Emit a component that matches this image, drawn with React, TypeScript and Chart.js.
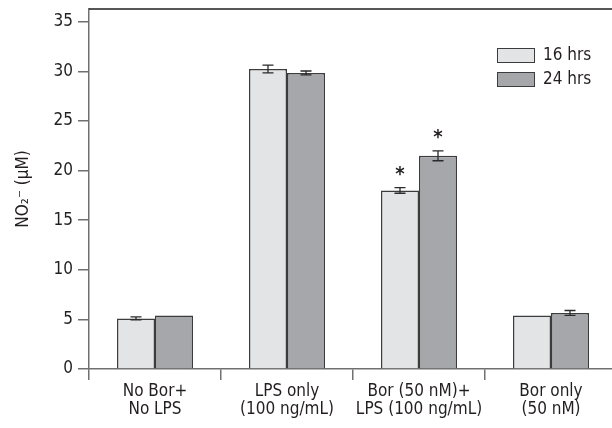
import React, { useEffect, useRef } from "react";
import { Chart, registerables } from "chart.js";

Chart.register(...registerables);

// Nitrite production per treatment group, at two time points
const categories = [
  ["No Bor+", "No LPS"],
  ["LPS only", "(100 ng/mL)"],
  ["Bor (50 nM)+", "LPS (100 ng/mL)"],
  ["Bor only", "(50 nM)"],
];
const seriesLabels = ["16 hrs", "24 hrs"];
const values16 = [5.1, 30.25, 18.0, 5.4];
const errors16 = [0.15, 0.4, 0.28, 0];
const values24 = [5.4, 29.85, 21.5, 5.65];
const errors24 = [0, 0.2, 0.5, 0.25];
const significant16 = [false, false, true, false];
const significant24 = [false, false, true, false];
const yTickValues = [0, 5, 10, 15, 20, 25, 30, 35];
const yMax = 36.3;

const FONT = '"DejaVu Sans Condensed", "Liberation Sans Narrow", sans-serif';
const TEXT = "#231f20";
const AXIS = "#707070";
const EDGE = "#3c3c3c";
const LIGHT = "#e3e4e6";
const DARK = "#a6a7aa";

const seriesValues = [values16, values24];
const seriesErrors = [errors16, errors24];
const seriesMarks = [significant16, significant24];

const overlay = {
  id: "overlay",
  afterDatasetsDraw(chart: any) {
    const { ctx, chartArea, scales } = chart;
    const y = scales.y;
    ctx.save();

    // frame line along the top of the plot
    ctx.strokeStyle = "#1e1e1e";
    ctx.lineWidth = 1.5;
    ctx.beginPath();
    ctx.moveTo(chartArea.left, chartArea.top);
    ctx.lineTo(chartArea.right, chartArea.top);
    ctx.stroke();

    // error bars and significance marks
    seriesValues.forEach((vals, di) => {
      const meta = chart.getDatasetMeta(di);
      meta.data.forEach((bar: any, i: number) => {
        const v = vals[i];
        const e = seriesErrors[di][i];
        const x = bar.x;
        if (e > 0) {
          const yTop = y.getPixelForValue(v + e);
          const yBot = y.getPixelForValue(v - e);
          ctx.strokeStyle = "#2a2a2a";
          ctx.lineWidth = 1.3;
          ctx.beginPath();
          ctx.moveTo(x, yTop);
          ctx.lineTo(x, yBot);
          ctx.moveTo(x - 5.5, yTop);
          ctx.lineTo(x + 5.5, yTop);
          ctx.moveTo(x - 5.5, yBot);
          ctx.lineTo(x + 5.5, yBot);
          ctx.stroke();
        }
        if (seriesMarks[di][i]) {
          const top = y.getPixelForValue(v + e);
          ctx.fillStyle = TEXT;
          ctx.font = `bold 20px ${FONT}`;
          ctx.textAlign = "center";
          ctx.textBaseline = "alphabetic";
          ctx.fillText("*", x, top - 8);
        }
      });
    });

    // legend
    const lx = 497;
    const rows = [48, 72];
    chart.data.datasets.forEach((ds: any, di: number) => {
      const ty = rows[di];
      ctx.fillStyle = ds.backgroundColor;
      ctx.fillRect(lx, ty, 38, 15);
      ctx.strokeStyle = EDGE;
      ctx.lineWidth = 1;
      ctx.strokeRect(lx + 0.5, ty + 0.5, 37, 14);
      ctx.fillStyle = TEXT;
      ctx.font = `17px ${FONT}`;
      ctx.textAlign = "left";
      ctx.textBaseline = "middle";
      ctx.fillText(ds.label, 543, ty + 8);
    });

    ctx.restore();
  },
};

export default function App() {
  const canvasRef = useRef<HTMLCanvasElement | null>(null);

  useEffect(() => {
    if (!canvasRef.current) return;
    const chart = new Chart(canvasRef.current, {
      type: "bar",
      data: {
        labels: categories,
        datasets: [
          {
            label: seriesLabels[0],
            data: values16,
            backgroundColor: LIGHT,
            borderColor: EDGE,
            borderWidth: 1.5,
          },
          {
            label: seriesLabels[1],
            data: values24,
            backgroundColor: DARK,
            borderColor: EDGE,
            borderWidth: 1.5,
          },
        ],
      },
      options: {
        responsive: false,
        animation: false,
        devicePixelRatio: 1,
        layout: { padding: { left: 0, top: 9, right: 23, bottom: 0 } },
        datasets: {
          bar: { barPercentage: 1, categoryPercentage: 0.576 },
        },
        plugins: {
          legend: { display: false },
          tooltip: { enabled: false },
        },
        scales: {
          x: {
            grid: {
              offset: true,
              drawOnChartArea: false,
              drawTicks: true,
              tickLength: 11,
              color: AXIS,
              lineWidth: 1.5,
            },
            border: { color: AXIS, width: 1.5 },
            ticks: {
              color: TEXT,
              padding: 2,
              maxRotation: 0,
              autoSkip: false,
              font: { family: FONT, size: 17, lineHeight: 1.1 },
            },
            afterFit: (s: any) => {
              s.height = 59;
              s.paddingLeft = 0;
              s.paddingRight = 0;
            },
          },
          y: {
            min: 0,
            max: yMax,
            grid: {
              drawOnChartArea: false,
              drawTicks: true,
              tickLength: 11,
              color: AXIS,
              lineWidth: 1.5,
            },
            border: { color: AXIS, width: 1.5 },
            ticks: {
              color: TEXT,
              padding: 5,
              font: { family: FONT, size: 17 },
            },
            afterBuildTicks: (s: any) => {
              s.ticks = yTickValues.map((v) => ({ value: v }));
            },
            title: {
              display: true,
              text: "NO₂⁻ (μM)",
              color: TEXT,
              padding: { top: 13, bottom: 0 },
              font: { family: FONT, size: 17, lineHeight: 1.2 },
            },
            afterFit: (s: any) => {
              s.width = 89;
              s.paddingTop = 0;
              s.paddingBottom = 0;
            },
          },
        },
      },
      plugins: [overlay],
    });
    return () => chart.destroy();
  }, []);

  return (
    <div
      style={{
        position: "absolute",
        left: 0,
        top: 0,
        width: 612,
        height: 428,
        overflow: "hidden",
        background: "#fff",
      }}
    >
      <canvas ref={canvasRef} width={640} height={428} style={{ display: "block" }} />
    </div>
  );
}
